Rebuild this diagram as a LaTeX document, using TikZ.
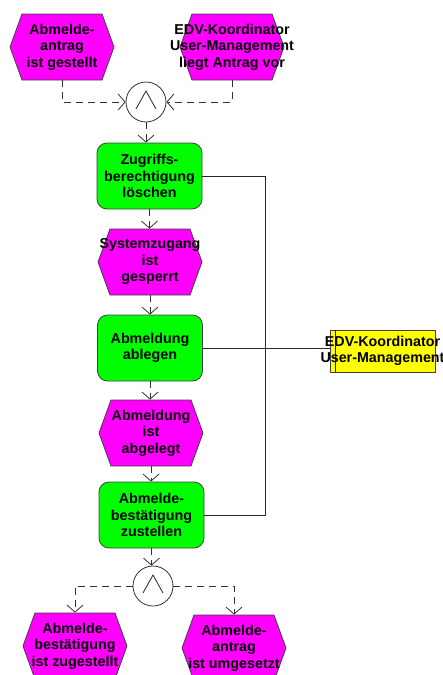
\documentclass[tikz,border=0pt]{standalone}
\usepackage{fontspec}
\setmainfont{Liberation Sans}
\usetikzlibrary{arrows.meta,calc}
\definecolor{evmag}{RGB}{255,0,255}
\definecolor{fngreen}{RGB}{0,255,0}
\definecolor{orgyellow}{RGB}{255,255,0}
\tikzset{
  lbl/.style={font=\fontsize{14.3}{16.5}\selectfont\bfseries, align=center, inner sep=0pt},
  evt/.style={lbl, minimum width=104pt, minimum height=66pt},
  fn/.style={lbl, draw=black!75, fill=fngreen, rounded corners=10pt, minimum width=105pt, minimum height=66pt},
  orgu/.style={lbl, draw=black!75, fill=orgyellow, minimum width=105pt, minimum height=42pt},
  conn/.style={circle, draw=black!80, fill=white, minimum size=40pt, inner sep=0pt},
  flow/.style={draw=black!80, dash pattern=on 7pt off 5pt, -{Straight Barb[length=7pt,width=16pt]}},
  assign/.style={draw=black!85},
  hexfill/.style={fill=evmag, draw=black!75}
}
\newcommand{\hexev}[4]{%
  \fill[hexfill] (#2-52,#3) -- (#2-40,#3-33) -- (#2+40,#3-33) -- (#2+52,#3) -- (#2+40,#3+33) -- (#2-40,#3+33) -- cycle;
  \node[evt] (#1) at (#2,#3) {#4};}
\newcommand{\andsym}[1]{%
  \draw[black!85] ($(#1.center)+(-10,7)$) -- ($(#1.center)+(0,-11)$) -- ($(#1.center)+(10,7)$);}
\begin{document}
\begin{tikzpicture}[x=1pt,y=-1pt,line width=0.8pt]
\useasboundingbox (0,0) rectangle (443,675);
\clip (0,0) rectangle (443,675);

% events
\hexev{e1}{62}{47}{Abmelde-\\antrag\\ist gestellt}
\hexev{e2}{232}{47}{EDV-Koordinator\\User-Management\\liegt Antrag vor}
\hexev{e3}{150}{262}{Systemzugang\\ist\\gesperrt}
\hexev{e4}{151}{433}{Abmeldung\\ist\\abgelegt}
\hexev{e5}{75}{646}{Abmelde-\\bestätigung\\ist zugestellt}
\hexev{e6}{234}{648}{Abmelde-\\antrag\\ist umgesetzt}

% connectors
\node[conn] (c1) at (146,102) {};
\andsym{c1}
\node[conn] (c2) at (153,586) {};
\andsym{c2}

% functions
\node[fn] (f1) at (149.5,176) {Zugriffs-\\berechtigung\\löschen};
\node[fn] (f2) at (150,348) {Abmeldung\\ablegen};
\node[fn] (f3) at (151.5,515) {Abmelde-\\bestätigung\\zustellen};

% org unit
\node[orgu] (org) at (382.5,351) {};
\draw[black!85] ($(org.north west)+(6,0)$) -- ($(org.south west)+(6,0)$);
\node[lbl] (orgt) at (org.center) {EDV-Koordinator\\User-Management};

% control flow
\draw[flow] (e1.south) |- (c1.west);
\draw[flow] (e2.south) |- (c1.east);
\draw[flow] (c1.south) -- (c1.south |- f1.north);
\draw[flow] (f1.south) -- (f1.south |- e3.north);
\draw[flow] (e3.south) -- (e3.south |- f2.north);
\draw[flow] (f2.south) -- (f2.south |- e4.north);
\draw[flow] (e4.south) -- (e4.south |- f3.north);
\draw[flow] (f3.south) -- (f3.south |- c2.north);
\draw[flow] (c2.west) -| (e5.north);
\draw[flow] (c2.east) -| (e6.north);

% assignments
\coordinate (bus) at (265,176);
\draw[assign] (f1.east) -- (bus) |- (f3.east);
\draw[assign] (f2.east) -- (f2.east -| org.west);
\end{tikzpicture}
\end{document}
